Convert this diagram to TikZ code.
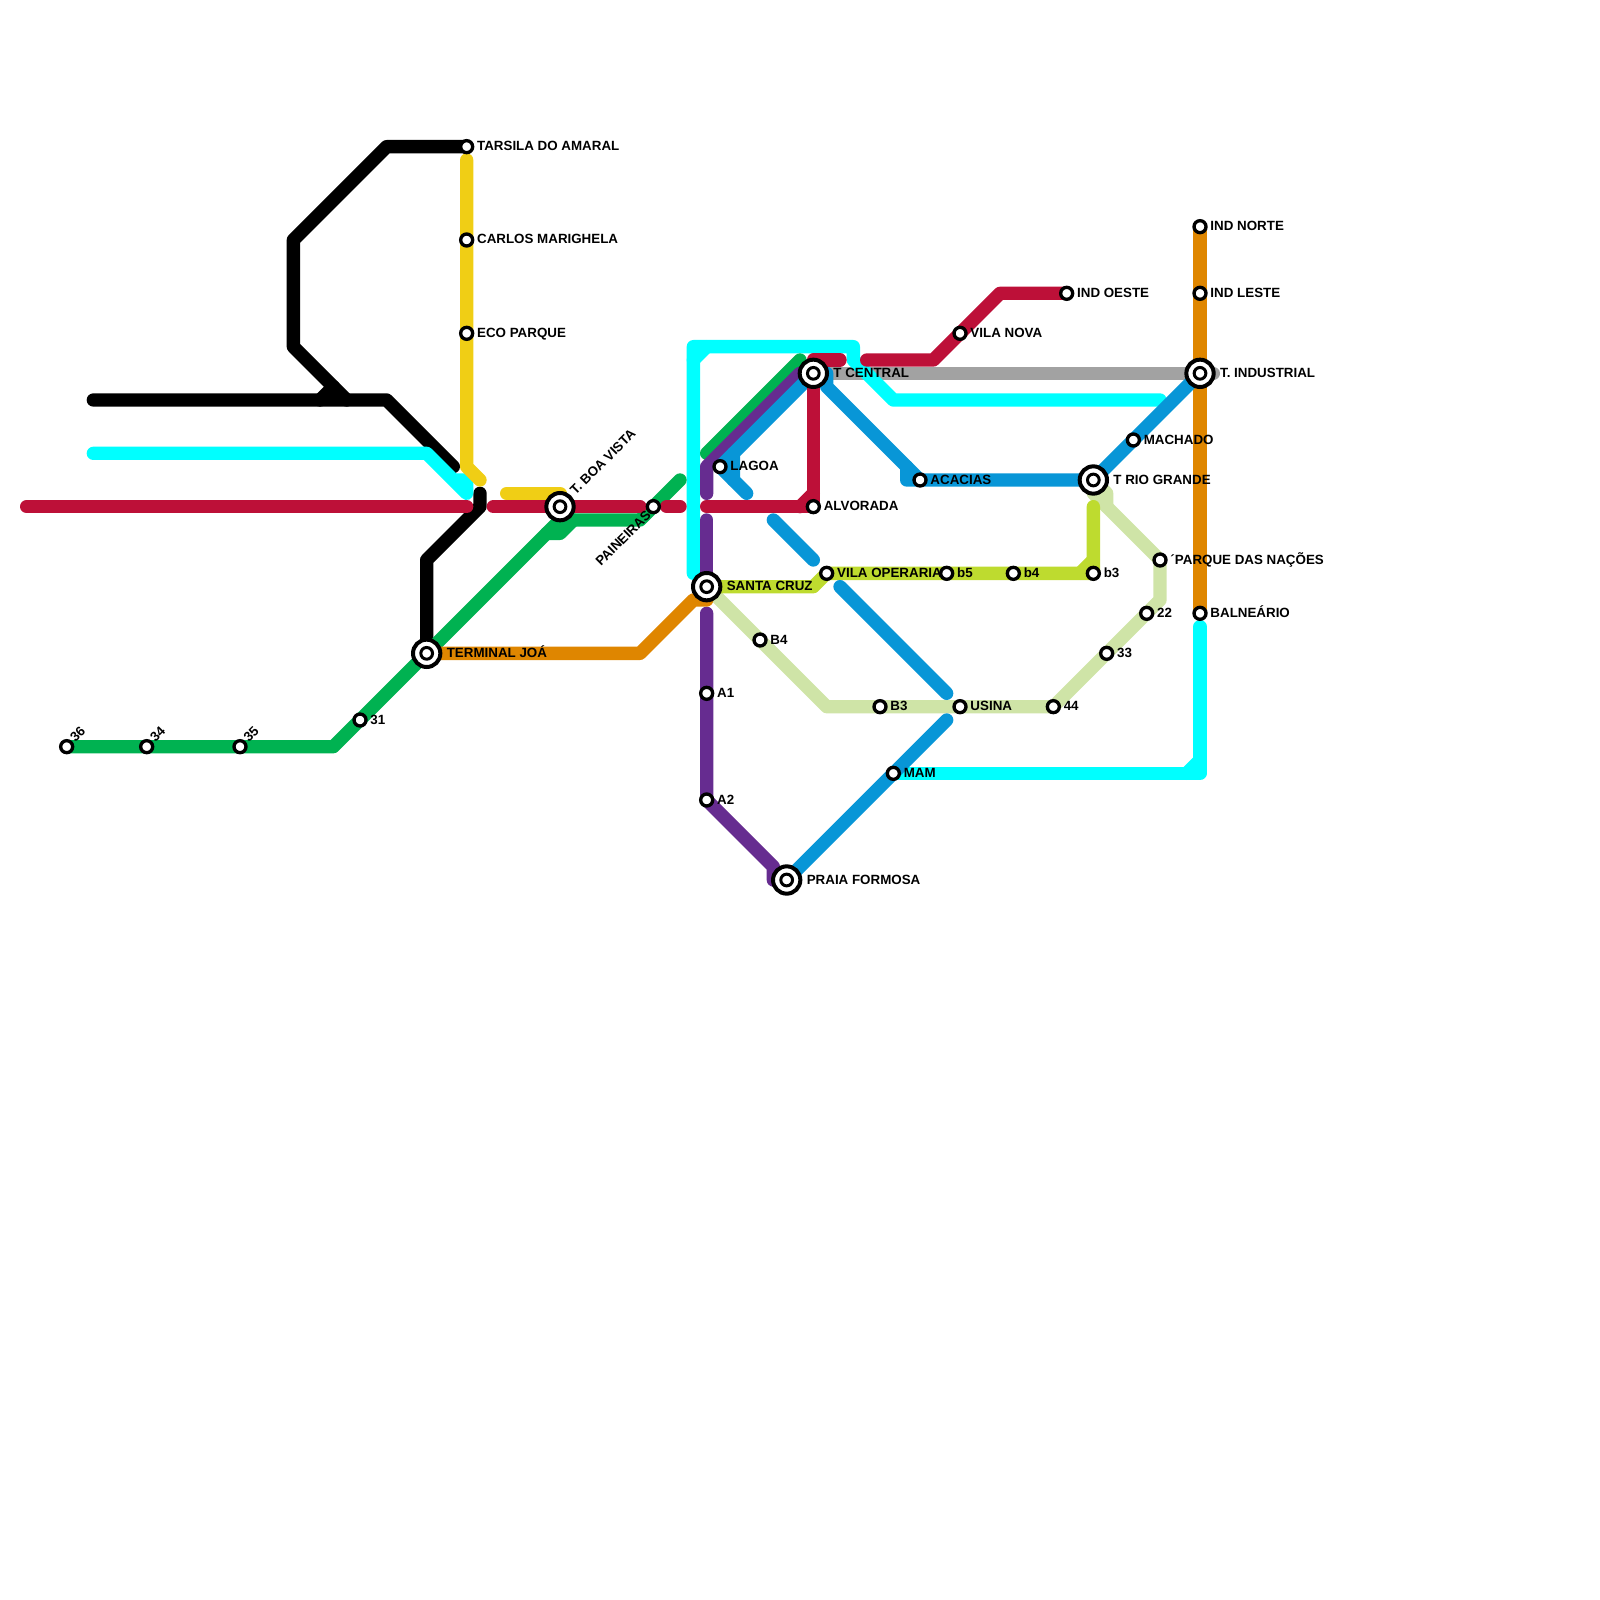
\documentclass[tikz,border=0pt]{standalone}
\usepackage{fontspec}
\setmainfont{Liberation Sans}
\usetikzlibrary{positioning}
\definecolor{mtgreen}{HTML}{00B251}
\definecolor{mtred}{HTML}{BD1038}
\definecolor{mtcyan}{HTML}{00FFFF}
\definecolor{mtyellow}{HTML}{F0CE15}
\definecolor{mtorange}{HTML}{DF8600}
\definecolor{mtpurple}{HTML}{662C90}
\definecolor{mtblue}{HTML}{0896D7}
\definecolor{mtlime}{HTML}{BEDB2F}
\definecolor{mtpale}{HTML}{CFE4A7}
\definecolor{mtgray}{HTML}{A2A2A2}
\tikzset{
  metroLine/.style={line width=0.2cm, line cap=round, line join=round},
  metroStop/.style={circle, draw=black, fill=white, line width=0.05cm, minimum size=0.18cm, inner sep=0pt},
  metroHub/.style={circle, draw=black, fill=white, line width=0.06cm, minimum size=0.41cm, inner sep=0pt,
    path picture={\draw[line width=0.045cm] (path picture bounding box.center) circle (0.088cm);}},
  stopLabel/.style={font=\fontsize{5.7pt}{6pt}\selectfont\bfseries, inner sep=0pt, text=black,
    text height=4.1pt, text depth=0pt, yshift=0.012cm}
}
\begin{document}
\begin{tikzpicture}[x=0.2cm,y=-0.2cm]
  \useasboundingbox (0,0) rectangle (120,120);
  % lines
  \draw[metroLine, mtgray] (62,28) -- (91,28);
  \draw[metroLine, black] (35,11) -- (29,11) -- (22,18) -- (22,26) -- (26,30);
  \draw[metroLine, black] (25,29) -- (24,30);
  \draw[metroLine, black] (7,30) -- (29,30) -- (34,35);
  \draw[metroLine, black] (32,49) -- (32,42) -- (36,38) -- (36,37);
  \draw[metroLine, mtcyan] (7,34) -- (32,34) -- (35,37) -- (35,36) -- (34,36);
  \draw[metroLine, mtcyan] (52,43) -- (52,26) -- (64,26) -- (64,27) -- (67,30) -- (87,30);
  \draw[metroLine, mtcyan] (52,27) -- (53,26);
  \draw[metroLine, mtcyan] (67,58) -- (90,58) -- (90,47);
  \draw[metroLine, mtcyan] (89,58) -- (90,57);
  \draw[metroLine, mtyellow] (35,12) -- (35,35) -- (36,36);
  \draw[metroLine, mtyellow] (38,37) -- (42,37) -- (42,38);
  \draw[metroLine, mtgreen] (5,56) -- (25,56) -- (42,39) -- (48,39) -- (51,36);
  \draw[metroLine, mtgreen] (41,40) -- (42,40) -- (43,39);
  \draw[metroLine, mtgreen] (53,34) -- (60,27);
  \draw[metroLine, mtpurple] (53,37) -- (53,35) -- (60,28) -- (61,28);
  \draw[metroLine, mtpurple] (53,39) -- (53,44);
  \draw[metroLine, mtpurple] (53,46) -- (53,60) -- (58,65) -- (58,66) -- (59,66);
  \draw[metroLine, mtpale] (53,44) -- (62,53) -- (79,53) -- (87,45) -- (87,42) -- (82,37);
  \draw[metroLine, mtpale] (83,38) -- (83,37) -- (82,36);
  \draw[metroLine, mtorange] (32,49) -- (48,49) -- (52,45) -- (53,45) -- (53,44);
  \draw[metroLine, mtorange] (90,17) -- (90,46);
  \draw[metroLine, mtlime] (53,44) -- (61,44) -- (62,43) -- (82,43) -- (82,38);
  \draw[metroLine, mtlime] (81,43) -- (82,42);
  \draw[metroLine, mtblue] (61,28) -- (55,34) -- (55,36) -- (56,37);
  \draw[metroLine, mtblue] (55,34) -- (54,35) -- (55,36);
  \draw[metroLine, mtblue] (61,28) -- (62,28) -- (62,29) -- (69,36);
  \draw[metroLine, mtblue] (68,35) -- (68,36) -- (82,36) -- (90,28);
  \draw[metroLine, mtblue] (58,39) -- (61,42);
  \draw[metroLine, mtblue] (63,44) -- (71,52);
  \draw[metroLine, mtblue] (71,54) -- (59,66);
  \draw[metroLine, mtred] (2,38) -- (35,38);
  \draw[metroLine, mtred] (37,38) -- (48,38);
  \draw[metroLine, mtred] (50,38) -- (51,38);
  \draw[metroLine, mtred] (53,38) -- (61,38) -- (61,28);
  \draw[metroLine, mtred] (60,38) -- (61,37);
  \draw[metroLine, mtred] (61,28) -- (61,27) -- (63,27);
  \draw[metroLine, mtred] (65,27) -- (70,27) -- (75,22) -- (80,22);
  % stations
  \node[metroStop] (tarsila) at (35,11) {};
  \node[metroStop] (carlos) at (35,18) {};
  \node[metroStop] (ecoParque) at (35,25) {};
  \node[metroHub] (boaVista) at (42,38) {};
  \node[metroStop] (paineiras) at (49,38) {};
  \node[metroHub] (joa) at (32,49) {};
  \node[metroStop] (st31) at (27,54) {};
  \node[metroStop] (st35) at (18,56) {};
  \node[metroStop] (st34) at (11,56) {};
  \node[metroStop] (st36) at (5,56) {};
  \node[metroStop] (lagoa) at (54,35) {};
  \node[metroStop] (alvorada) at (61,38) {};
  \node[metroHub] (central) at (61,28) {};
  \node[metroHub] (santaCruz) at (53,44) {};
  \node[metroStop] (vilaOperaria) at (62,43) {};
  \node[metroStop] (b5) at (71,43) {};
  \node[metroStop] (b4) at (76,43) {};
  \node[metroStop] (b3) at (82,43) {};
  \node[metroStop] (acacias) at (69,36) {};
  \node[metroHub] (rioGrande) at (82,36) {};
  \node[metroStop] (machado) at (85,33) {};
  \node[metroHub] (industrial) at (90,28) {};
  \node[metroStop] (indNorte) at (90,17) {};
  \node[metroStop] (indLeste) at (90,22) {};
  \node[metroStop] (indOeste) at (80,22) {};
  \node[metroStop] (vilaNova) at (72,25) {};
  \node[metroStop] (parque) at (87,42) {};
  \node[metroStop] (st22) at (86,46) {};
  \node[metroStop] (balneario) at (90,46) {};
  \node[metroStop] (st33) at (83,49) {};
  \node[metroStop] (st44) at (79,53) {};
  \node[metroStop] (usina) at (72,53) {};
  \node[metroStop] (bB3) at (66,53) {};
  \node[metroStop] (mam) at (67,58) {};
  \node[metroStop] (bB4) at (57,48) {};
  \node[metroStop] (a1) at (53,52) {};
  \node[metroStop] (a2) at (53,60) {};
  \node[metroHub] (praia) at (59,66) {};
  % labels
  \node[stopLabel, right=0.035cm of tarsila] (tarsilaText) {TARSILA DO AMARAL};
  \node[stopLabel, right=0.035cm of carlos] (carlosText) {CARLOS MARIGHELA};
  \node[stopLabel, right=0.035cm of ecoParque] (ecoParqueText) {ECO PARQUE};
  \node[stopLabel, right=0.06cm of joa] (joaText) {TERMINAL JOÁ};
  \node[stopLabel, right=0.035cm of st31] (st31Text) {31};
  \node[stopLabel, rotate=45, anchor=west] (st35Text) at ([shift={(0.4,-0.5)}]st35) {35};
  \node[stopLabel, rotate=45, anchor=west] (st34Text) at ([shift={(0.4,-0.5)}]st34) {34};
  \node[stopLabel, rotate=45, anchor=west] (st36Text) at ([shift={(0.4,-0.5)}]st36) {36};
  \node[stopLabel, rotate=45, anchor=west] (boaVistaText) at ([shift={(0.9,-1.0)}]boaVista) {T. BOA VISTA};
  \node[stopLabel, rotate=45, anchor=east] (paineirasText) at ([shift={(-0.35,0.5)}]paineiras) {PAINEIRAS};
  \node[stopLabel, right=0.035cm of lagoa] (lagoaText) {LAGOA};
  \node[stopLabel, right=0.035cm of alvorada] (alvoradaText) {ALVORADA};
  \node[stopLabel, right=0.06cm of central] (centralText) {T CENTRAL};
  \node[stopLabel, right=0.06cm of santaCruz] (santaCruzText) {SANTA CRUZ};
  \node[stopLabel, right=0.035cm of vilaOperaria] (vilaOperariaText) {VILA OPERARIA};
  \node[stopLabel, right=0.035cm of b5] (b5Text) {b5};
  \node[stopLabel, right=0.035cm of b4] (b4Text) {b4};
  \node[stopLabel, right=0.035cm of b3] (b3Text) {b3};
  \node[stopLabel, right=0.035cm of acacias] (acaciasText) {ACACIAS};
  \node[stopLabel, right=0.06cm of rioGrande] (rioGrandeText) {T RIO GRANDE};
  \node[stopLabel, right=0.035cm of machado] (machadoText) {MACHADO};
  \node[stopLabel, right=0.06cm of industrial] (industrialText) {T. INDUSTRIAL};
  \node[stopLabel, right=0.035cm of indNorte] (indNorteText) {IND NORTE};
  \node[stopLabel, right=0.035cm of indLeste] (indLesteText) {IND LESTE};
  \node[stopLabel, right=0.035cm of indOeste] (indOesteText) {IND OESTE};
  \node[stopLabel, right=0.035cm of vilaNova] (vilaNovaText) {VILA NOVA};
  \node[stopLabel, right=0.035cm of parque] (parqueText) {´PARQUE DAS NAÇÕES};
  \node[stopLabel, right=0.035cm of st22] (st22Text) {22};
  \node[stopLabel, right=0.035cm of balneario] (balnearioText) {BALNEÁRIO};
  \node[stopLabel, right=0.035cm of st33] (st33Text) {33};
  \node[stopLabel, right=0.035cm of st44] (st44Text) {44};
  \node[stopLabel, right=0.035cm of usina] (usinaText) {USINA};
  \node[stopLabel, right=0.035cm of bB3] (bB3Text) {B3};
  \node[stopLabel, right=0.035cm of mam] (mamText) {MAM};
  \node[stopLabel, right=0.035cm of bB4] (bB4Text) {B4};
  \node[stopLabel, right=0.035cm of a1] (a1Text) {A1};
  \node[stopLabel, right=0.035cm of a2] (a2Text) {A2};
  \node[stopLabel, right=0.06cm of praia] (praiaText) {PRAIA FORMOSA};
\end{tikzpicture}
\end{document}
